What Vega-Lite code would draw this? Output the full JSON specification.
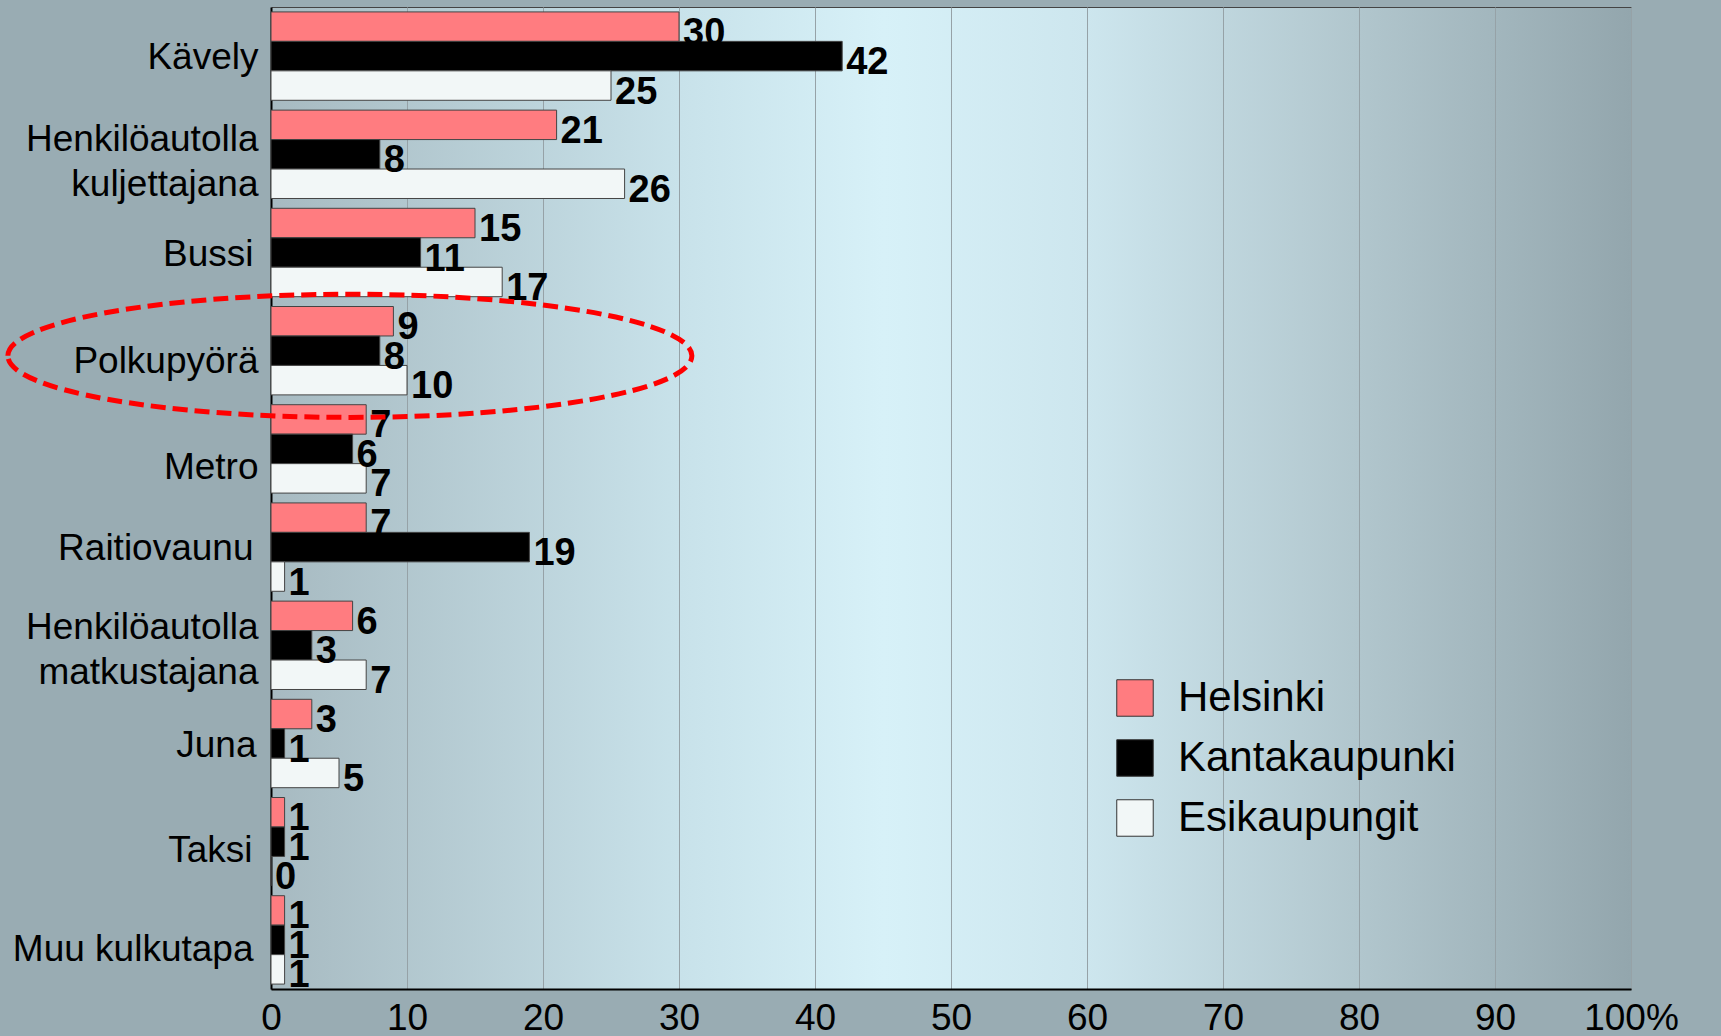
{
  "$schema": "https://vega.github.io/schema/vega-lite/v6.json",
  "width": 1360,
  "height": 982,
  "autosize": {"type": "none"},
  "padding": {"left": 271, "top": 7, "right": 90, "bottom": 47},
  "background": "#99acb3",
  "config": {
    "font": "Liberation Sans, Arial, sans-serif",
    "view": {
      "fill": {
        "gradient": "linear",
        "x1": 0, "y1": 0, "x2": 1, "y2": 0,
        "stops": [
          {"offset": 0, "color": "#a7bac1"},
          {"offset": 0.3, "color": "#c8e2ea"},
          {"offset": 0.45, "color": "#d7f1f8"},
          {"offset": 0.6, "color": "#cde6ee"},
          {"offset": 0.8, "color": "#b1c6cd"},
          {"offset": 1, "color": "#93a6ad"}
        ]
      },
      "stroke": "#444444",
      "strokeWidth": 1
    }
  },
  "datasets": {
    "trips": [
      {"mode": "Kävely", "area": "Helsinki", "value": 30},
      {"mode": "Kävely", "area": "Kantakaupunki", "value": 42},
      {"mode": "Kävely", "area": "Esikaupungit", "value": 25},
      {"mode": "Henkilöautolla kuljettajana", "area": "Helsinki", "value": 21},
      {"mode": "Henkilöautolla kuljettajana", "area": "Kantakaupunki", "value": 8},
      {"mode": "Henkilöautolla kuljettajana", "area": "Esikaupungit", "value": 26},
      {"mode": "Bussi", "area": "Helsinki", "value": 15},
      {"mode": "Bussi", "area": "Kantakaupunki", "value": 11},
      {"mode": "Bussi", "area": "Esikaupungit", "value": 17},
      {"mode": "Polkupyörä", "area": "Helsinki", "value": 9},
      {"mode": "Polkupyörä", "area": "Kantakaupunki", "value": 8},
      {"mode": "Polkupyörä", "area": "Esikaupungit", "value": 10},
      {"mode": "Metro", "area": "Helsinki", "value": 7},
      {"mode": "Metro", "area": "Kantakaupunki", "value": 6},
      {"mode": "Metro", "area": "Esikaupungit", "value": 7},
      {"mode": "Raitiovaunu", "area": "Helsinki", "value": 7},
      {"mode": "Raitiovaunu", "area": "Kantakaupunki", "value": 19},
      {"mode": "Raitiovaunu", "area": "Esikaupungit", "value": 1},
      {"mode": "Henkilöautolla matkustajana", "area": "Helsinki", "value": 6},
      {"mode": "Henkilöautolla matkustajana", "area": "Kantakaupunki", "value": 3},
      {"mode": "Henkilöautolla matkustajana", "area": "Esikaupungit", "value": 7},
      {"mode": "Juna", "area": "Helsinki", "value": 3},
      {"mode": "Juna", "area": "Kantakaupunki", "value": 1},
      {"mode": "Juna", "area": "Esikaupungit", "value": 5},
      {"mode": "Taksi", "area": "Helsinki", "value": 1},
      {"mode": "Taksi", "area": "Kantakaupunki", "value": 1},
      {"mode": "Taksi", "area": "Esikaupungit", "value": 0},
      {"mode": "Muu kulkutapa", "area": "Helsinki", "value": 1},
      {"mode": "Muu kulkutapa", "area": "Kantakaupunki", "value": 1},
      {"mode": "Muu kulkutapa", "area": "Esikaupungit", "value": 1}
    ],
    "highlight": [
      {"mode": "Polkupyörä", "value": 5.8}
    ]
  },
  "layer": [
    {
      "data": {"name": "trips"},
      "mark": {"type": "bar", "stroke": "#444444", "strokeWidth": 1},
      "encoding": {
        "y": {
          "field": "mode", "type": "nominal", "sort": null,
          "scale": {
            "domain": ["Kävely", "Henkilöautolla kuljettajana", "Bussi", "Polkupyörä", "Metro", "Raitiovaunu", "Henkilöautolla matkustajana", "Juna", "Taksi", "Muu kulkutapa"],
            "paddingInner": 0.1, "paddingOuter": 0.05
          },
          "axis": {
            "title": null,
            "labelFontSize": 37,
            "labelColor": "#000000",
            "labelPadding": {
              "condition": [
                {"test": "datum.value == 'Muu kulkutapa'", "value": 18},
                {"test": "datum.value == 'Taksi'", "value": 19},
                {"test": "datum.value == 'Raitiovaunu'", "value": 18},
                {"test": "datum.value == 'Bussi'", "value": 18},
                {"test": "datum.value == 'Juna'", "value": 15}
              ],
              "value": 13
            },
            "labelLineHeight": 45,
            "labelLimit": 400,
            "labelOffset": {
              "condition": [
                {"test": "datum.value == 'Henkilöautolla kuljettajana'", "value": -14},
                {"test": "datum.value == 'Henkilöautolla matkustajana'", "value": -17},
                {"test": "datum.value == 'Polkupyörä'", "value": 11},
                {"test": "datum.value == 'Metro'", "value": 19},
                {"test": "datum.value == 'Taksi'", "value": 9},
                {"test": "datum.value == 'Muu kulkutapa'", "value": 10}
              ],
              "value": 2
            },
            "ticks": false,
            "domainColor": "#000000",
            "domainWidth": 2,
            "labelExpr": "indexof(datum.label, 'Henkilöautolla') == 0 ? split(datum.label, ' ') : datum.label"
          }
        },
        "yOffset": {
          "field": "area", "type": "nominal",
          "scale": {"domain": ["Helsinki", "Kantakaupunki", "Esikaupungit"], "paddingInner": 0, "paddingOuter": 0}
        },
        "x": {
          "field": "value", "type": "quantitative",
          "scale": {"domain": [0, 100], "nice": false},
          "axis": {
            "title": null,
            "values": [0, 10, 20, 30, 40, 50, 60, 70, 80, 90, 100],
            "labelExpr": "datum.value == 100 ? '100%' : datum.label",
            "labelFontSize": 37,
            "labelColor": "#000000",
            "labelPadding": 11,
            "labelFlush": false,
            "labelOverlap": false,
            "ticks": false,
            "grid": true,
            "gridColor": "#96a2a7",
            "gridWidth": 1,
            "domainColor": "#000000",
            "domainWidth": 2
          }
        },
        "color": {
          "field": "area", "type": "nominal",
          "scale": {"domain": ["Helsinki", "Kantakaupunki", "Esikaupungit"], "range": ["#ff7c80", "#000000", "#f2f7f7"]},
          "legend": {
            "title": null,
            "orient": "none",
            "legendX": 843,
            "legendY": 670,
            "padding": 0,
            "symbolType": "square",
            "symbolSize": 1330,
            "symbolStrokeColor": "#333333",
            "symbolStrokeWidth": 1,
            "symbolOpacity": 1,
            "labelFontSize": 42,
            "labelColor": "#000000",
            "labelOffset": 22,
            "rowPadding": 18,
            "labelLimit": 400
          }
        }
      }
    },
    {
      "data": {"name": "trips"},
      "mark": {"type": "text", "align": "left", "baseline": "middle", "dx": 4, "dy": 7, "fontSize": 38, "fontWeight": "bold", "color": "#000000"},
      "encoding": {
        "y": {"field": "mode", "type": "nominal", "sort": null},
        "yOffset": {"field": "area", "type": "nominal"},
        "x": {"field": "value", "type": "quantitative"},
        "text": {"field": "value", "type": "quantitative"}
      }
    },
    {
      "data": {"name": "highlight"},
      "mark": {
        "type": "point",
        "filled": false,
        "shape": "M -1 0.015 C -1 -0.0844 -0.5523 -0.165 0 -0.165 C 0.5523 -0.165 1 -0.0844 1 0.015 C 1 0.1144 0.5523 0.195 0 0.195 C -0.5523 0.195 -1 0.1144 -1 0.015 Z",
        "size": 467856,
        "stroke": "#ff0000",
        "strokeWidth": 5,
        "strokeDash": [15, 7],
        "opacity": 1
      },
      "encoding": {
        "y": {"field": "mode", "type": "nominal", "sort": null},
        "x": {"field": "value", "type": "quantitative"}
      }
    }
  ]
}
